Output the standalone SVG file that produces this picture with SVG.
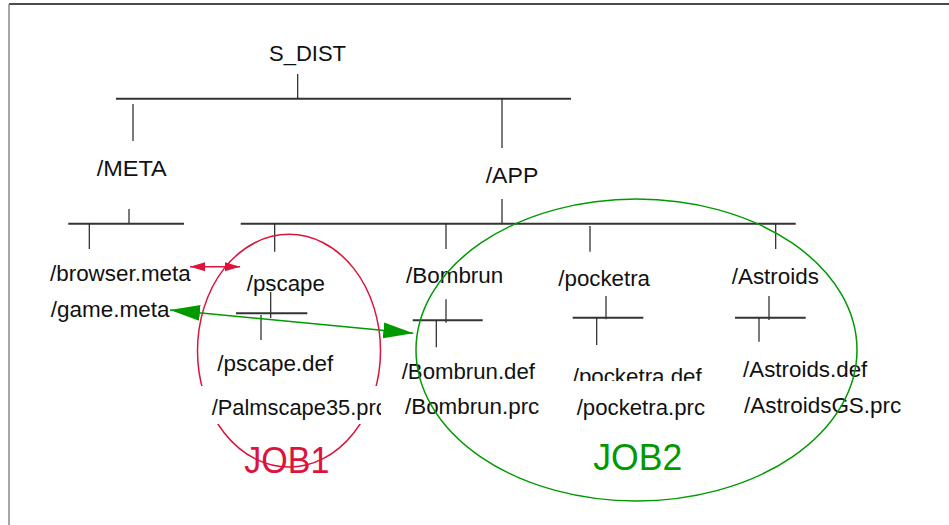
<svg xmlns="http://www.w3.org/2000/svg" width="949" height="525" viewBox="0 0 949 525">
<style>
text{font-family:"Liberation Sans",Arial,sans-serif;font-size:22px;fill:#111;}
.h{stroke:#333;stroke-width:2;fill:none;}
.v{stroke:#222;stroke-width:1.2;fill:none;}
.job{font-size:36px;}
</style>
<defs>
<marker id="rh" markerUnits="userSpaceOnUse" markerWidth="15" markerHeight="10" refX="15" refY="5" orient="auto-start-reverse"><path d="M0,0.5 L15,5 L0,9.5 z" fill="#dc143c"/></marker>
<marker id="gh" markerUnits="userSpaceOnUse" markerWidth="30" markerHeight="17" refX="30" refY="8.5" orient="auto-start-reverse"><path d="M0,0.5 L30,8.5 L0,16.5 z" fill="#009a00"/></marker>
<clipPath id="cpalm"><rect x="199" y="380" width="182" height="50"/></clipPath>
<clipPath id="cpock"><rect x="560" y="350" width="160" height="31"/></clipPath>
</defs>
<rect width="949" height="525" fill="#fff"/>
<g id="frame">
<line x1="9" y1="4" x2="949" y2="4" stroke="#111" stroke-width="1.5"/>
<line x1="9" y1="4" x2="9" y2="525" stroke="#888" stroke-width="1.5"/>
</g>
<g id="connectors">
<line class="h" x1="116" y1="98.7" x2="571" y2="98.7"/>
<line class="v" x1="297.7" y1="74" x2="297.7" y2="98.7"/>
<line class="v" x1="133" y1="104" x2="133" y2="141"/>
<line class="v" x1="502" y1="98.7" x2="502" y2="148"/>
<line class="v" x1="129" y1="209" x2="129" y2="223.7"/>
<line class="h" x1="68.3" y1="223.7" x2="184" y2="223.7"/>
<line class="v" x1="89.3" y1="223.7" x2="89.3" y2="249"/>
<line class="v" x1="502" y1="199" x2="502" y2="223.7"/>
<line class="h" x1="240.7" y1="223.7" x2="795.7" y2="223.7"/>
<line class="v" x1="274.7" y1="223.7" x2="274.7" y2="251.7"/>
<line class="v" x1="446" y1="223.7" x2="446" y2="249"/>
<line class="v" x1="590" y1="226" x2="590" y2="251.7"/>
<line class="v" x1="775.7" y1="223.7" x2="775.7" y2="249"/>
<line class="v" x1="270.7" y1="292" x2="270.7" y2="318"/>
<line class="h" x1="236" y1="313.3" x2="307.3" y2="313.3"/>
<line class="v" x1="261" y1="315" x2="261" y2="340"/>
<line class="v" x1="446" y1="299.3" x2="446" y2="322.7"/>
<line class="h" x1="412.7" y1="320.3" x2="482.7" y2="320.3"/>
<line class="v" x1="436.3" y1="320.3" x2="436.3" y2="347.3"/>
<line class="v" x1="606" y1="296" x2="606" y2="319.3"/>
<line class="h" x1="572.7" y1="317.7" x2="643.3" y2="317.7"/>
<line class="v" x1="596.7" y1="317.7" x2="596.7" y2="345"/>
<line class="v" x1="769" y1="296" x2="769" y2="320"/>
<line class="h" x1="735" y1="317.7" x2="805.7" y2="317.7"/>
<line class="v" x1="759" y1="317.7" x2="759" y2="341.7"/>
</g>
<g id="n-sdist"><text x="269" y="61" textLength="77" lengthAdjust="spacingAndGlyphs">S_DIST</text></g>
<g id="n-meta"><text x="96.7" y="176" textLength="70" lengthAdjust="spacingAndGlyphs">/META</text></g>
<g id="n-app"><text x="485.7" y="183.3" textLength="52.6" lengthAdjust="spacingAndGlyphs">/APP</text></g>
<g id="n-browser"><text x="50" y="281" textLength="140.7" lengthAdjust="spacingAndGlyphs">/browser.meta</text></g>
<g id="n-game"><text x="50.7" y="316.7" textLength="118.7" lengthAdjust="spacingAndGlyphs">/game.meta</text></g>
<g id="n-pscape"><text x="246.7" y="291" textLength="78.3" lengthAdjust="spacingAndGlyphs">/pscape</text></g>
<g id="n-bombrun"><text x="406" y="283.3" textLength="97.3" lengthAdjust="spacingAndGlyphs">/Bombrun</text></g>
<g id="n-pocketra"><text x="558.3" y="286" textLength="91.7" lengthAdjust="spacingAndGlyphs">/pocketra</text></g>
<g id="n-astroids"><text x="731.7" y="284" textLength="87.3" lengthAdjust="spacingAndGlyphs">/Astroids</text></g>
<g id="n-pscapedef"><text x="217.3" y="371" textLength="116" lengthAdjust="spacingAndGlyphs">/pscape.def</text></g>
<g id="n-bombrundef"><text x="401.7" y="379" textLength="133.3" lengthAdjust="spacingAndGlyphs">/Bombrun.def</text></g>
<g id="n-bombrunprc"><text x="405" y="414" textLength="134.3" lengthAdjust="spacingAndGlyphs">/Bombrun.prc</text></g>
<g id="n-pocketradef" clip-path="url(#cpock)"><text x="572.7" y="383.5" textLength="129" lengthAdjust="spacingAndGlyphs">/pocketra.def</text></g>
<g id="n-pocketraprc"><text x="576.7" y="415" textLength="128.3" lengthAdjust="spacingAndGlyphs">/pocketra.prc</text></g>
<g id="n-astroidsdef"><text x="743" y="376.7" textLength="124.3" lengthAdjust="spacingAndGlyphs">/Astroids.def</text></g>
<g id="n-astroidsgs"><text x="744" y="412.5" textLength="157.3" lengthAdjust="spacingAndGlyphs">/AstroidsGS.prc</text></g>
<g id="job1-label"><text class="job" x="244.3" y="473.3" style="fill:#dc143c" textLength="85" lengthAdjust="spacingAndGlyphs">JOB1</text></g>
<g id="job1"><ellipse cx="289" cy="350.7" rx="91.5" ry="116.4" fill="none" stroke="#dc143c" stroke-width="1.5"/></g>
<g id="n-palmscape">
<rect x="199" y="386" width="182" height="38" fill="#fff"/>
<g clip-path="url(#cpalm)"><text x="211.7" y="414.5" textLength="175" lengthAdjust="spacingAndGlyphs">/Palmscape35.prc</text></g>
</g>
<g id="job2"><ellipse cx="636.5" cy="350" rx="220.5" ry="151" fill="none" stroke="#009a00" stroke-width="1.5"/></g>
<g id="job2-label"><text class="job" x="593.3" y="470" style="fill:#009a00" textLength="89" lengthAdjust="spacingAndGlyphs">JOB2</text></g>
<g id="arrows">
<line x1="190" y1="266.7" x2="240" y2="266.7" stroke="#dc143c" stroke-width="1.5" marker-start="url(#rh)" marker-end="url(#rh)"/>
<line x1="170" y1="310" x2="413.3" y2="333.3" stroke="#009a00" stroke-width="1.6" marker-start="url(#gh)" marker-end="url(#gh)"/>
</g>
</svg>
